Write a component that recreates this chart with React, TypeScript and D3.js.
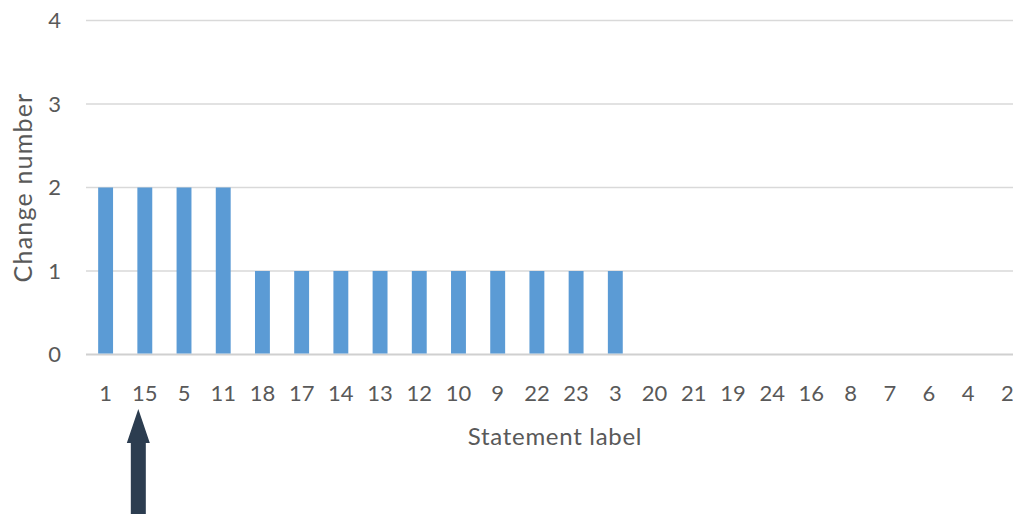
import { useEffect, useRef } from "react";
import * as d3 from "d3";

const labels = ["1", "15", "5", "11", "18", "17", "14", "13", "12", "10", "9", "22", "23", "3", "20", "21", "19", "24", "16", "8", "7", "6", "4", "2"];
const changes = [2, 2, 2, 2, 1, 1, 1, 1, 1, 1, 1, 1, 1, 1, 0, 0, 0, 0, 0, 0, 0, 0, 0, 0];
const yTicks = [0, 1, 2, 3, 4];
const highlighted = "15";

export default function App() {
  const width = 1013;
  const height = 514;
  const svgRef = useRef<SVGSVGElement>(null);

  useEffect(() => {
    const svg = d3.select(svgRef.current);
    svg.selectAll("*").remove();
    const font = "Lato, sans-serif";
    const textColor = "#595959";

    const x = d3.scaleBand<string>().domain(labels).range([86, 1027]).paddingInner(0.62).paddingOuter(0.31);
    const y = d3.scaleLinear().domain([0, 4]).range([354.5, 20.5]);

    // gridlines
    svg
      .append("g")
      .selectAll("line")
      .data(yTicks)
      .join("line")
      .attr("x1", 86)
      .attr("x2", width)
      .attr("y1", (d) => y(d))
      .attr("y2", (d) => y(d))
      .attr("stroke", (d) => (d === 0 ? "#d0d0d0" : "#d9d9d9"))
      .attr("stroke-width", (d) => (d === 0 ? 2 : 1.3));

    // bars
    svg
      .append("g")
      .selectAll("rect")
      .data(labels.map((l, i) => ({ l, v: changes[i] })))
      .join("rect")
      .attr("x", (d) => x(d.l)!)
      .attr("width", x.bandwidth())
      .attr("y", (d) => y(d.v))
      .attr("height", (d) => y(0) - y(d.v) - 1)
      .attr("fill", "#5b9bd5");

    // y tick labels
    svg
      .append("g")
      .selectAll("text")
      .data(yTicks)
      .join("text")
      .attr("x", 61)
      .attr("y", (d) => y(d))
      .attr("dy", "0.35em")
      .attr("text-anchor", "end")
      .attr("font-family", font)
      .attr("font-size", 22)
      .attr("fill", textColor)
      .text((d) => d);

    // x tick labels
    svg
      .append("g")
      .selectAll("text")
      .data(labels)
      .join("text")
      .attr("x", (d) => x(d)! + x.bandwidth() / 2)
      .attr("y", 401)
      .attr("text-anchor", "middle")
      .attr("font-family", font)
      .attr("font-size", 22)
      .attr("fill", textColor)
      .text((d) => d);

    // axis titles
    svg
      .append("text")
      .attr("x", 555)
      .attr("y", 445)
      .attr("text-anchor", "middle")
      .attr("font-family", font)
      .attr("font-size", 24)
      .attr("letter-spacing", 0.7)
      .attr("fill", textColor)
      .text("Statement label");

    svg
      .append("text")
      .attr("transform", "rotate(-90)")
      .attr("x", -187.5)
      .attr("y", 32)
      .attr("text-anchor", "middle")
      .attr("font-family", font)
      .attr("font-size", 25)
      .attr("letter-spacing", 1.2)
      .attr("fill", textColor)
      .text("Change number");

    // arrow pointing at the highlighted statement
    const cx = x(highlighted)! + x.bandwidth() / 2 - 6.5;
    svg
      .append("path")
      .attr(
        "d",
        `M${cx},409 L${cx + 11.5},443 L${cx + 7.5},443 L${cx + 7.5},${height} L${cx - 7.5},${height} L${cx - 7.5},443 L${cx - 11.5},443 Z`
      )
      .attr("fill", "#2c3d50");
  }, []);

  return (
    <svg
      ref={svgRef}
      width={width}
      height={height}
      style={{ position: "absolute", left: 0, top: 0, background: "#fff" }}
    />
  );
}
